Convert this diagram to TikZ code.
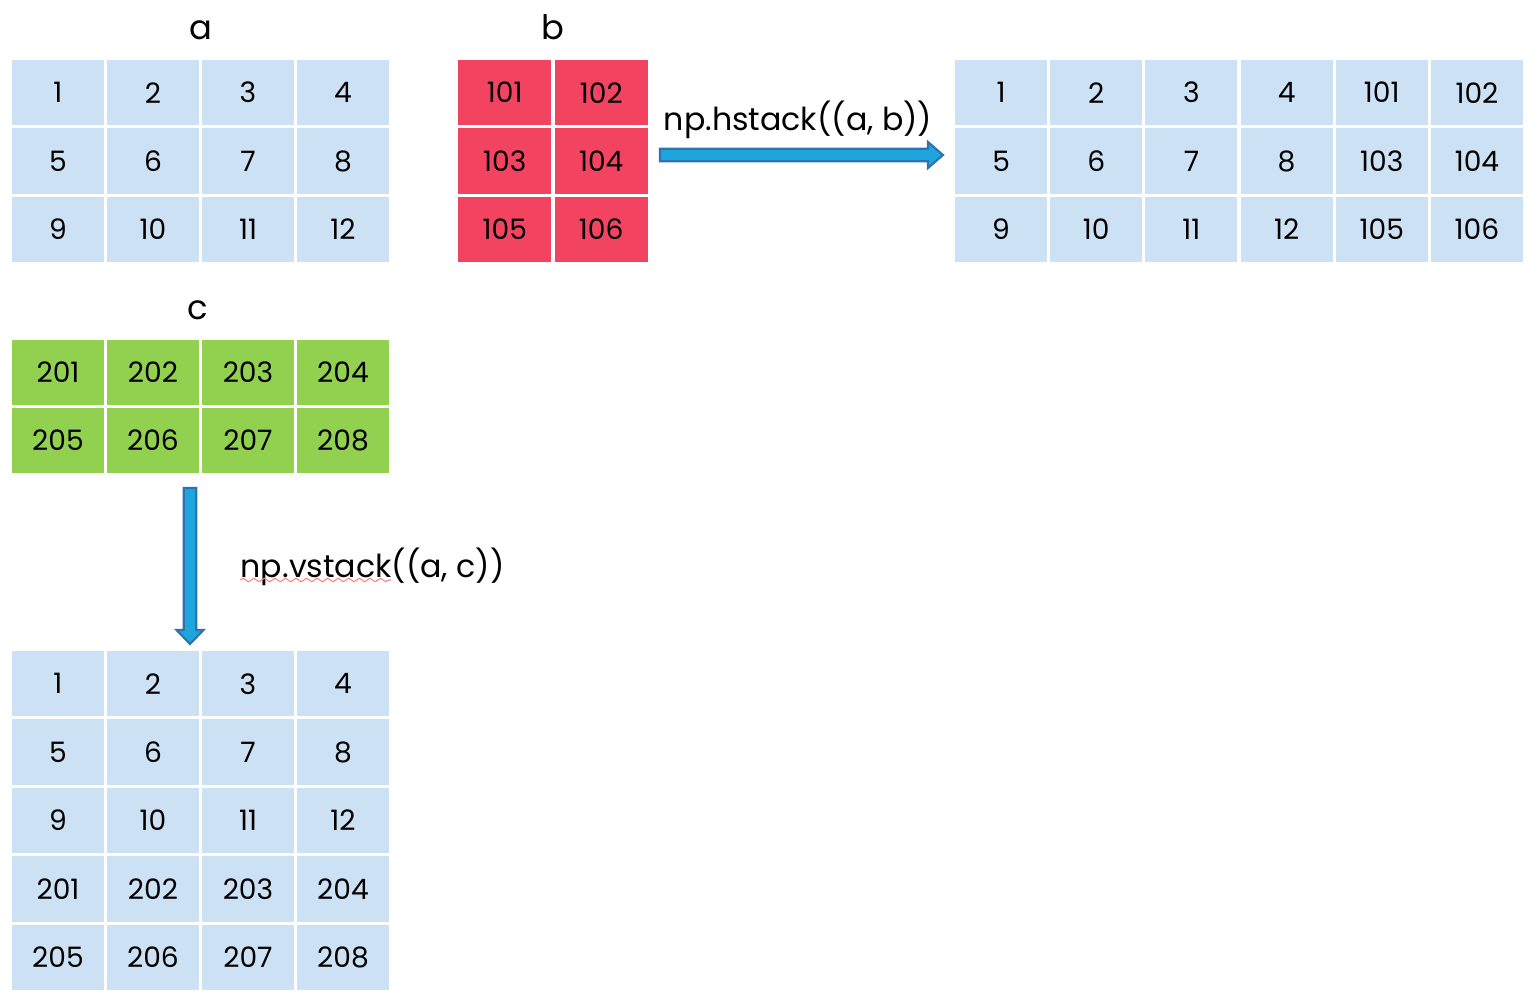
\documentclass[tikz,border=0pt]{standalone}
\usepackage{fontspec}
\setmainfont{Poppins}
\usetikzlibrary{calc,decorations.pathmorphing}

\definecolor{cellblue}{HTML}{CDE1F4}
\definecolor{cellred}{HTML}{F24461}
\definecolor{cellgreen}{HTML}{92D050}
\definecolor{arrowfill}{HTML}{1FA5DE}
\definecolor{arrowline}{HTML}{2E72AE}

\tikzset{
  cell/.style={rectangle, draw=white, line width=0.9pt, inner sep=0pt,
    font=\fontsize{8}{9}\selectfont, text=black},
  title/.style={font=\fontsize{9.6}{11}\selectfont, anchor=base, inner sep=0pt},
  call/.style={font=\fontsize{9}{11}\selectfont, anchor=base, inner sep=0pt},
  blockarrow/.style={fill=arrowfill, draw=arrowline, line width=0.6pt, line join=miter},
  spellmark/.style={draw=red!50, line width=0.3pt,
    decorate, decoration={snake, segment length=3, amplitude=0.5}}
}

% \mkgrid{name}{left}{top}{cell width}{row height}{columns}{colour}{values}
\newcommand\mkgrid[8]{%
  \foreach \v [count=\k from 0] in {#8} {
    \pgfmathtruncatemacro\rr{floor(\k/#6)}
    \pgfmathtruncatemacro\cc{\k-\rr*#6}
    \node[cell, fill=#7, minimum width=#4*0.01cm, minimum height=#5*0.01cm]
      (#1-\rr-\cc) at ({#2+(\cc+0.5)*#4},{#3+(\rr+0.5)*#5}) {\v};
  }%
}

\begin{document}
\begin{tikzpicture}[x=0.01cm, y=-0.01cm]
\useasboundingbox (0,0) rectangle (1539,1000);

% input arrays
\mkgrid{a}{10.5}{58.5}{95}{68.33}{4}{cellblue}{1,2,3,4,5,6,7,8,9,10,11,12}
\mkgrid{b}{456.5}{58.5}{96.5}{68.33}{2}{cellred}{101,102,103,104,105,106}
\mkgrid{c}{10.5}{338.5}{95}{68}{4}{cellgreen}{201,202,203,204,205,206,207,208}

% stacked results
\mkgrid{h}{953.5}{58.5}{95.17}{68.33}{6}{cellblue}{1,2,3,4,101,102,5,6,7,8,103,104,9,10,11,12,105,106}
\mkgrid{v}{10.5}{649.5}{95}{68.4}{4}{cellblue}{1,2,3,4,5,6,7,8,9,10,11,12,201,202,203,204,205,206,207,208}

% array names
\node[title] (ta) at (201,39) {a};
\node[title] (tb) at (553,39) {b};
\node[title] (tc) at (198,319) {c};

% horizontal stacking
\coordinate (hs) at (660,155);
\coordinate (he) at (943,155);
\filldraw[blockarrow] ($(hs)+(0,-6.3)$) -- ($(he)+(-15,-6.3)$) -- ($(he)+(-15,-13)$)
  -- (he) -- ($(he)+(-15,13)$) -- ($(he)+(-15,6.3)$) -- ($(hs)+(0,6.3)$) -- cycle;
\node[call] (hcall) at (798,130) {np.hstack((a, b))};

% vertical stacking
\coordinate (vs) at (190,488);
\coordinate (ve) at (190,644);
\filldraw[blockarrow] ($(vs)+(-6.3,0)$) -- ($(ve)+(-6.3,-14)$) -- ($(ve)+(-13.5,-14)$)
  -- (ve) -- ($(ve)+(13.5,-14)$) -- ($(ve)+(6.3,-14)$) -- ($(vs)+(6.3,0)$) -- cycle;
\node[call, anchor=base west] (vcall) at (240,577) {np.vstack((a, c))};
\draw[spellmark] (240,580) -- (391,580);

\end{tikzpicture}
\end{document}
